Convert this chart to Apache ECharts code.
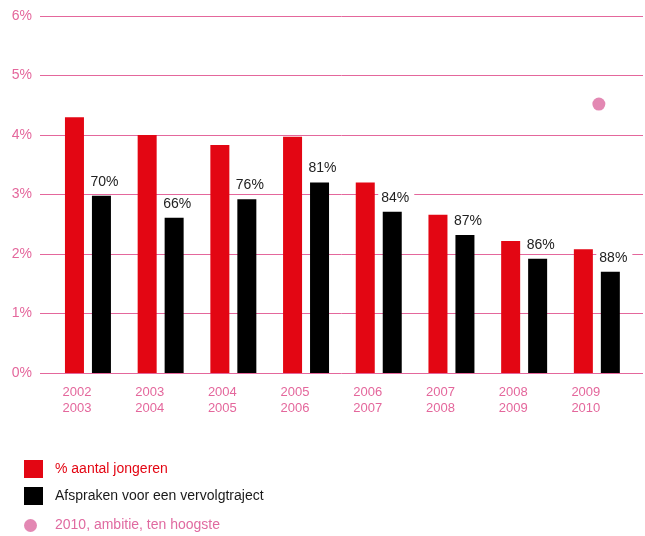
<!DOCTYPE html>
<html>
<head>
<meta charset="utf-8">
<script src="https://cdn.jsdelivr.net/npm/echarts@6/dist/echarts.min.js"></script>
<style>
  html, body { margin: 0; padding: 0; background: #fff; }
  #chart { width: 645px; height: 536px; }
</style>
</head>
<body>
<div id="chart"></div>
<script>
const categories = ['2002\n2003', '2003\n2004', '2004\n2005', '2005\n2006', '2006\n2007', '2007\n2008', '2008\n2009', '2009\n2010']
const jongeren = [4.3, 4.0, 3.83, 3.97, 3.2, 2.66, 2.22, 2.08]
const vervolgtraject = [2.98, 2.61, 2.92, 3.2, 2.71, 2.32, 1.92, 1.7]
const vervolgLabels = ['70%', '66%', '76%', '81%', '84%', '87%', '86%', '88%']
const ambitie = ['-', '-', '-', '-', '-', '-', '-', 4.52]
const yTicks = [0, 1, 2, 3, 4, 5, 6]

const RED = '#e30613'
const PINK = '#e4679c'
const FONT = 'Liberation Sans'

const chart = echarts.init(document.getElementById('chart'))

chart.setOption({
  backgroundColor: '#fff',
  textStyle: { fontFamily: FONT },
  animation: false,
  grid: [
    // gridlines
    { left: 40, right: 2, top: 16, bottom: 163 },
    // bars
    { left: 51.6, width: 581.6, top: 16, bottom: 163 },
  ],
  xAxis: [
    { gridIndex: 0, type: 'value', min: 0, max: 1, show: false },
    {
      gridIndex: 1,
      type: 'category',
      data: categories,
      axisLine: { show: false },
      axisTick: { show: false },
      axisLabel: {
        color: PINK,
        fontSize: 13,
        lineHeight: 16,
        margin: 11,
        padding: [0, 22, 0, 0],
      },
    },
  ],
  yAxis: [
    {
      gridIndex: 0,
      type: 'value',
      min: yTicks[0],
      max: yTicks[yTicks.length - 1],
      interval: 1,
      axisLine: { show: false },
      axisTick: { show: false },
      axisLabel: {
        color: PINK,
        fontSize: 14,
        margin: 8,
        formatter: (v) => v + '%',
      },
      splitLine: { lineStyle: { color: PINK, width: 1 } },
    },
    {
      gridIndex: 1,
      type: 'value',
      min: 0,
      max: 6,
      interval: 1,
      show: false,
      splitLine: { show: false },
    },
  ],
  legend: [
    {
      left: 24,
      top: 460,
      padding: 0,
      orient: 'vertical',
      itemWidth: 19,
      itemHeight: 18,
      itemGap: 9,
      icon: 'rect',
      textStyle: { fontSize: 14, padding: [0, 0, 0, 7], fontFamily: FONT },
      data: [
        { name: '% aantal jongeren', textStyle: { color: RED } },
        { name: 'Afspraken voor een vervolgtraject', textStyle: { color: '#1a1a1a' } },
      ],
    },
    {
      left: 24,
      top: 518.5,
      padding: 0,
      itemWidth: 13,
      itemHeight: 13,
      icon: 'circle',
      textStyle: { fontSize: 14, padding: [0, 0, 0, 13], fontFamily: FONT },
      data: [
        { name: '2010, ambitie, ten hoogste', textStyle: { color: '#e06aa0' } },
      ],
    },
  ],
  series: [
    {
      name: '% aantal jongeren',
      type: 'bar',
      xAxisIndex: 1,
      yAxisIndex: 1,
      data: jongeren,
      barWidth: 19,
      barGap: '42%',
      itemStyle: { color: RED },
    },
    {
      name: 'Afspraken voor een vervolgtraject',
      type: 'bar',
      xAxisIndex: 1,
      yAxisIndex: 1,
      data: vervolgtraject,
      barWidth: 19,
      itemStyle: { color: '#000' },
      label: {
        show: true,
        position: 'top',
        distance: 6,
        offset: [4, 0],
        color: '#222',
        fontSize: 14,
        fontFamily: FONT,
        backgroundColor: '#fff',
        padding: [1, 5, 1, 3],
        formatter: (p) => vervolgLabels[p.dataIndex],
      },
    },
    {
      name: '2010, ambitie, ten hoogste',
      type: 'scatter',
      xAxisIndex: 1,
      yAxisIndex: 1,
      data: ambitie,
      symbol: 'circle',
      symbolSize: 13,
      symbolOffset: [2, 0],
      itemStyle: { color: '#dc6aa0' },
    },
  ],
})
</script>
</body>
</html>
